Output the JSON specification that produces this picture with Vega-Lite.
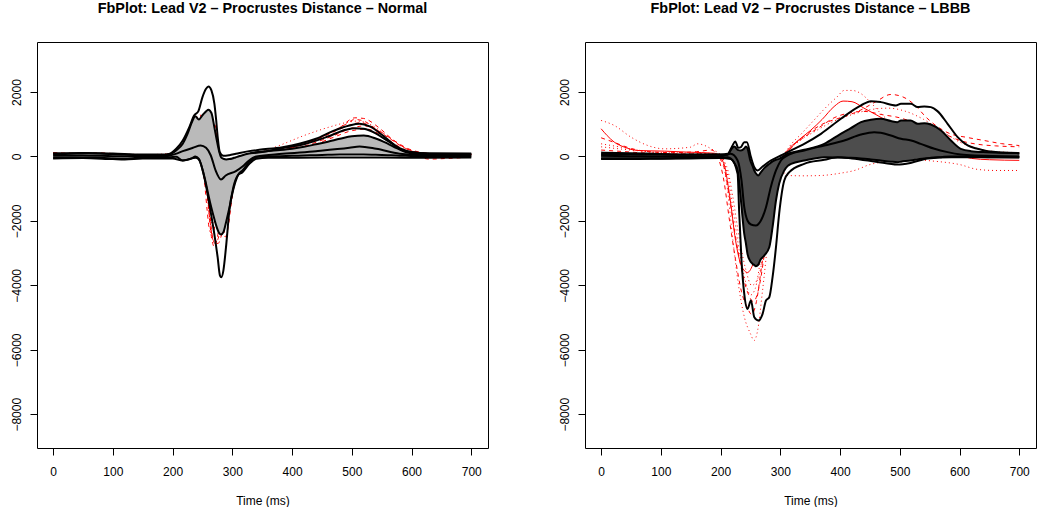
{
"$schema": "https://vega.github.io/schema/vega-lite/v6.json",
"padding": {"left": 10, "top": 0, "right": 0, "bottom": 0},
"autosize": {"type": "pad"},
"spacing": 69,
"config": {
 "view": {"stroke": "#000", "strokeWidth": 1},
 "font": "Liberation Sans",
 "axis": {"grid": false, "domain": false, "tickColor": "#000", "tickSize": 7, "tickWidth": 1, "labelFont": "Liberation Sans", "labelFontSize": 12, "labelColor": "#000", "titleFont": "Liberation Sans", "titleFontSize": 12, "titleFontWeight": "normal", "titleColor": "#000"},
 "axisX": {"labelPadding": 11, "titlePadding": 18, "labelAngle": 0},
 "axisY": {"labelAngle": -90, "labelAlign": "center", "labelBaseline": "alphabetic", "labelPadding": 9.5},
 "title": {"font": "Liberation Sans", "fontSize": 14.4, "fontWeight": "bold", "color": "#000", "anchor": "middle", "baseline": "alphabetic", "offset": 26}
},
"datasets": {
"band": [
{"p":"N","t":0,"lo":-40,"hi":70},{"p":"N","t":20,"lo":-40,"hi":80},{"p":"N","t":40,"lo":-30,"hi":90},{"p":"N","t":60,"lo":-30,"hi":100},{"p":"N","t":80,"lo":-40,"hi":90},{"p":"N","t":100,"lo":-60,"hi":70},{"p":"N","t":120,"lo":-80,"hi":50},{"p":"N","t":140,"lo":-40,"hi":40},{"p":"N","t":160,"lo":-20,"hi":30},{"p":"N","t":180,"lo":-20,"hi":30},{"p":"N","t":195,"lo":-20,"hi":60},{"p":"N","t":206,"lo":-10,"hi":187},{"p":"N","t":217,"lo":-124,"hi":394},{"p":"N","t":225,"lo":-100,"hi":700},{"p":"N","t":232,"lo":-60,"hi":1050},{"p":"N","t":238,"lo":0,"hi":1250},{"p":"N","t":244,"lo":-72,"hi":1150},{"p":"N","t":250,"lo":-400,"hi":1280},{"p":"N","t":256,"lo":-850,"hi":1400},{"p":"N","t":260,"lo":-1200,"hi":1450},{"p":"N","t":265,"lo":-1600,"hi":1350},{"p":"N","t":270,"lo":-1950,"hi":900},{"p":"N","t":274,"lo":-2200,"hi":500},{"p":"N","t":278,"lo":-2380,"hi":150},{"p":"N","t":281,"lo":-2420,"hi":-20},{"p":"N","t":285,"lo":-2350,"hi":-70},{"p":"N","t":290,"lo":-2000,"hi":-90},{"p":"N","t":295,"lo":-1600,"hi":-80},{"p":"N","t":300,"lo":-1150,"hi":-60},{"p":"N","t":305,"lo":-800,"hi":-30},{"p":"N","t":310,"lo":-560,"hi":0},{"p":"N","t":317,"lo":-434,"hi":40},{"p":"N","t":328,"lo":-176,"hi":90},{"p":"N","t":340,"lo":-20,"hi":130},{"p":"N","t":360,"lo":0,"hi":170},{"p":"N","t":380,"lo":10,"hi":200},{"p":"N","t":400,"lo":20,"hi":240},{"p":"N","t":420,"lo":30,"hi":300},{"p":"N","t":440,"lo":40,"hi":380},{"p":"N","t":460,"lo":50,"hi":460},{"p":"N","t":480,"lo":60,"hi":550},{"p":"N","t":500,"lo":60,"hi":630},{"p":"N","t":520,"lo":60,"hi":650},{"p":"N","t":540,"lo":50,"hi":560},{"p":"N","t":560,"lo":40,"hi":400},{"p":"N","t":575,"lo":30,"hi":260},{"p":"N","t":590,"lo":20,"hi":140},{"p":"N","t":610,"lo":10,"hi":80},{"p":"N","t":640,"lo":0,"hi":60},{"p":"N","t":700,"lo":0,"hi":60},
{"p":"L","t":0,"lo":-60,"hi":80},{"p":"L","t":30,"lo":-60,"hi":80},{"p":"L","t":60,"lo":-60,"hi":70},{"p":"L","t":100,"lo":-60,"hi":60},{"p":"L","t":150,"lo":-40,"hi":50},{"p":"L","t":195,"lo":-40,"hi":60},{"p":"L","t":212,"lo":-20,"hi":52},{"p":"L","t":217,"lo":-60,"hi":200},{"p":"L","t":223,"lo":-200,"hi":311},{"p":"L","t":228.5,"lo":-434,"hi":207},{"p":"L","t":234,"lo":-1366,"hi":187},{"p":"L","t":239.6,"lo":-2401,"hi":250},{"p":"L","t":242.4,"lo":-2700,"hi":311},{"p":"L","t":245,"lo":-3022,"hi":250},{"p":"L","t":249.7,"lo":-3250,"hi":-124},{"p":"L","t":253.6,"lo":-3333,"hi":-300},{"p":"L","t":256.4,"lo":-3370,"hi":-434},{"p":"L","t":259,"lo":-3405,"hi":-520},{"p":"L","t":263,"lo":-3360,"hi":-590},{"p":"L","t":267,"lo":-3200,"hi":-500},{"p":"L","t":273,"lo":-3074,"hi":-360},{"p":"L","t":281.5,"lo":-2815,"hi":-228},{"p":"L","t":287,"lo":-2194,"hi":-150},{"p":"L","t":292.7,"lo":-1366,"hi":-100},{"p":"L","t":298,"lo":-848,"hi":-72},{"p":"L","t":306.6,"lo":-434,"hi":20},{"p":"L","t":312,"lo":-300,"hi":83},{"p":"L","t":318,"lo":-228,"hi":120},{"p":"L","t":340,"lo":-124,"hi":207},{"p":"L","t":373.6,"lo":-20,"hi":393},{"p":"L","t":401,"lo":-30,"hi":704},{"p":"L","t":418,"lo":-41,"hi":880},{"p":"L","t":435,"lo":-60,"hi":1066},{"p":"L","t":451.6,"lo":-90,"hi":1139},{"p":"L","t":468,"lo":-124,"hi":1170},{"p":"L","t":485,"lo":-160,"hi":1100},{"p":"L","t":496,"lo":-176,"hi":1066},{"p":"L","t":502,"lo":-160,"hi":1118},{"p":"L","t":518,"lo":-124,"hi":1118},{"p":"L","t":530,"lo":-90,"hi":1014},{"p":"L","t":541,"lo":-60,"hi":1035},{"p":"L","t":552,"lo":-41,"hi":993},{"p":"L","t":569,"lo":-20,"hi":807},{"p":"L","t":585.6,"lo":0,"hi":497},{"p":"L","t":602,"lo":0,"hi":238},{"p":"L","t":619,"lo":-10,"hi":166},{"p":"L","t":647,"lo":-20,"hi":135},{"p":"L","t":700,"lo":-20,"hi":104}
],
"lines": [
{"s":"Nb1","t":0,"v":100},{"s":"Nb1","t":50,"v":110},{"s":"Nb1","t":100,"v":90},{"s":"Nb1","t":150,"v":60},{"s":"Nb1","t":180,"v":60},{"s":"Nb1","t":194,"v":80},{"s":"Nb1","t":206,"v":238},{"s":"Nb1","t":217,"v":497},{"s":"Nb1","t":228,"v":911},{"s":"Nb1","t":236,"v":1273},{"s":"Nb1","t":243,"v":1400},{"s":"Nb1","t":250,"v":1843},{"s":"Nb1","t":256,"v":2101},{"s":"Nb1","t":260,"v":2174},{"s":"Nb1","t":265,"v":2050},{"s":"Nb1","t":270,"v":1636},{"s":"Nb1","t":273,"v":1118},{"s":"Nb1","t":275.5,"v":600},{"s":"Nb1","t":279,"v":135},{"s":"Nb1","t":285,"v":20},{"s":"Nb1","t":295,"v":40},{"s":"Nb1","t":306,"v":83},{"s":"Nb1","t":328,"v":166},{"s":"Nb1","t":345,"v":207},{"s":"Nb1","t":384,"v":290},{"s":"Nb1","t":412,"v":393},{"s":"Nb1","t":440,"v":549},{"s":"Nb1","t":468,"v":787},{"s":"Nb1","t":496,"v":963},{"s":"Nb1","t":513,"v":1015},{"s":"Nb1","t":530,"v":932},{"s":"Nb1","t":552,"v":652},{"s":"Nb1","t":569,"v":393},{"s":"Nb1","t":580,"v":238},{"s":"Nb1","t":600,"v":130},{"s":"Nb1","t":630,"v":90},{"s":"Nb1","t":700,"v":90},
{"s":"Nb2","t":330,"v":100},{"s":"Nb2","t":360,"v":170},{"s":"Nb2","t":380,"v":250},{"s":"Nb2","t":420,"v":380},{"s":"Nb2","t":460,"v":620},{"s":"Nb2","t":490,"v":830},{"s":"Nb2","t":505,"v":880},{"s":"Nb2","t":520,"v":860},{"s":"Nb2","t":540,"v":720},{"s":"Nb2","t":560,"v":480},{"s":"Nb2","t":580,"v":260},{"s":"Nb2","t":600,"v":140},{"s":"Nb2","t":630,"v":90},{"s":"Nb2","t":700,"v":80},
{"s":"Nb3","t":0,"v":20},{"s":"Nb3","t":50,"v":30},{"s":"Nb3","t":100,"v":10},{"s":"Nb3","t":150,"v":0},{"s":"Nb3","t":190,"v":10},{"s":"Nb3","t":205,"v":80},{"s":"Nb3","t":217,"v":166},{"s":"Nb3","t":234,"v":269},{"s":"Nb3","t":247,"v":342},{"s":"Nb3","t":256,"v":269},{"s":"Nb3","t":264,"v":31},{"s":"Nb3","t":272,"v":-434},{"s":"Nb3","t":281,"v":-714},{"s":"Nb3","t":289,"v":-590},{"s":"Nb3","t":306,"v":-455},{"s":"Nb3","t":317,"v":-310},{"s":"Nb3","t":328,"v":-124},{"s":"Nb3","t":340,"v":0},{"s":"Nb3","t":384,"v":83},{"s":"Nb3","t":440,"v":166},{"s":"Nb3","t":496,"v":269},{"s":"Nb3","t":513,"v":311},{"s":"Nb3","t":541,"v":238},{"s":"Nb3","t":580,"v":83},{"s":"Nb3","t":620,"v":40},{"s":"Nb3","t":700,"v":30},
{"s":"Nb4","t":0,"v":-60},{"s":"Nb4","t":50,"v":-50},{"s":"Nb4","t":100,"v":-80},{"s":"Nb4","t":120,"v":-90},{"s":"Nb4","t":150,"v":-60},{"s":"Nb4","t":200,"v":-60},{"s":"Nb4","t":217,"v":-124},{"s":"Nb4","t":239,"v":-41},{"s":"Nb4","t":245,"v":-124},{"s":"Nb4","t":253,"v":-641},{"s":"Nb4","t":261.4,"v":-1470},{"s":"Nb4","t":269.8,"v":-2401},{"s":"Nb4","t":275.4,"v":-3125},{"s":"Nb4","t":279.3,"v":-3695},{"s":"Nb4","t":281.6,"v":-3747},{"s":"Nb4","t":285,"v":-3540},{"s":"Nb4","t":289.4,"v":-2815},{"s":"Nb4","t":295,"v":-1677},{"s":"Nb4","t":301.7,"v":-952},{"s":"Nb4","t":309,"v":-590},{"s":"Nb4","t":317,"v":-486},{"s":"Nb4","t":328.5,"v":-228},{"s":"Nb4","t":340,"v":-72},{"s":"Nb4","t":360,"v":-40},{"s":"Nb4","t":400,"v":-40},{"s":"Nb4","t":500,"v":-30},{"s":"Nb4","t":600,"v":-40},{"s":"Nb4","t":700,"v":-30},
{"s":"Nd1","t":0,"v":120},{"s":"Nd1","t":40,"v":100},{"s":"Nd1","t":80,"v":110},{"s":"Nd1","t":120,"v":60},{"s":"Nd1","t":160,"v":40},{"s":"Nd1","t":190,"v":60},{"s":"Nd1","t":210,"v":250},{"s":"Nd1","t":225,"v":700},{"s":"Nd1","t":238,"v":1150},{"s":"Nd1","t":246,"v":1300},{"s":"Nd1","t":250,"v":900},{"s":"Nd1","t":254,"v":100},{"s":"Nd1","t":258,"v":-900},{"s":"Nd1","t":262,"v":-2000},{"s":"Nd1","t":266,"v":-2600},{"s":"Nd1","t":270,"v":-2800},{"s":"Nd1","t":275,"v":-2500},{"s":"Nd1","t":281,"v":-1700},{"s":"Nd1","t":289,"v":-800},{"s":"Nd1","t":300,"v":-300},{"s":"Nd1","t":315,"v":-80},{"s":"Nd1","t":340,"v":40},{"s":"Nd1","t":380,"v":180},{"s":"Nd1","t":420,"v":380},{"s":"Nd1","t":460,"v":700},{"s":"Nd1","t":490,"v":1000},{"s":"Nd1","t":505,"v":1150},{"s":"Nd1","t":520,"v":1100},{"s":"Nd1","t":540,"v":850},{"s":"Nd1","t":560,"v":520},{"s":"Nd1","t":585,"v":220},{"s":"Nd1","t":610,"v":90},{"s":"Nd1","t":650,"v":60},{"s":"Nd1","t":700,"v":60},
{"s":"Nd2","t":0,"v":60},{"s":"Nd2","t":50,"v":40},{"s":"Nd2","t":100,"v":-20},{"s":"Nd2","t":150,"v":20},{"s":"Nd2","t":195,"v":50},{"s":"Nd2","t":215,"v":300},{"s":"Nd2","t":230,"v":850},{"s":"Nd2","t":240,"v":1100},{"s":"Nd2","t":245,"v":600},{"s":"Nd2","t":250,"v":-200},{"s":"Nd2","t":254,"v":-900},{"s":"Nd2","t":258,"v":-1700},{"s":"Nd2","t":262,"v":-2300},{"s":"Nd2","t":267,"v":-2400},{"s":"Nd2","t":273,"v":-1900},{"s":"Nd2","t":281,"v":-1100},{"s":"Nd2","t":292,"v":-400},{"s":"Nd2","t":310,"v":-120},{"s":"Nd2","t":340,"v":30},{"s":"Nd2","t":390,"v":250},{"s":"Nd2","t":440,"v":520},{"s":"Nd2","t":480,"v":850},{"s":"Nd2","t":500,"v":1000},{"s":"Nd2","t":515,"v":1050},{"s":"Nd2","t":535,"v":900},{"s":"Nd2","t":560,"v":600},{"s":"Nd2","t":590,"v":250},{"s":"Nd2","t":620,"v":80},{"s":"Nd2","t":700,"v":40},
{"s":"Nd3","t":0,"v":80},{"s":"Nd3","t":60,"v":60},{"s":"Nd3","t":120,"v":30},{"s":"Nd3","t":180,"v":50},{"s":"Nd3","t":205,"v":150},{"s":"Nd3","t":225,"v":400},{"s":"Nd3","t":240,"v":700},{"s":"Nd3","t":252,"v":900},{"s":"Nd3","t":262,"v":1050},{"s":"Nd3","t":268,"v":1100},{"s":"Nd3","t":272,"v":900},{"s":"Nd3","t":276,"v":100},{"s":"Nd3","t":280,"v":-800},{"s":"Nd3","t":284,"v":-1800},{"s":"Nd3","t":288,"v":-2500},{"s":"Nd3","t":293,"v":-2200},{"s":"Nd3","t":298,"v":-1500},{"s":"Nd3","t":305,"v":-700},{"s":"Nd3","t":315,"v":-200},{"s":"Nd3","t":330,"v":-20},{"s":"Nd3","t":370,"v":100},{"s":"Nd3","t":420,"v":320},{"s":"Nd3","t":470,"v":650},{"s":"Nd3","t":500,"v":880},{"s":"Nd3","t":520,"v":950},{"s":"Nd3","t":545,"v":800},{"s":"Nd3","t":570,"v":500},{"s":"Nd3","t":600,"v":200},{"s":"Nd3","t":640,"v":80},{"s":"Nd3","t":700,"v":60},
{"s":"No4","t":0,"v":100},{"s":"No4","t":80,"v":90},{"s":"No4","t":160,"v":60},{"s":"No4","t":200,"v":100},{"s":"No4","t":220,"v":400},{"s":"No4","t":235,"v":900},{"s":"No4","t":243,"v":1100},{"s":"No4","t":248,"v":500},{"s":"No4","t":252,"v":-300},{"s":"No4","t":257,"v":-1100},{"s":"No4","t":262,"v":-1800},{"s":"No4","t":267,"v":-2100},{"s":"No4","t":274,"v":-1800},{"s":"No4","t":283,"v":-1100},{"s":"No4","t":294,"v":-500},{"s":"No4","t":310,"v":-100},{"s":"No4","t":340,"v":80},{"s":"No4","t":380,"v":350},{"s":"No4","t":420,"v":650},{"s":"No4","t":460,"v":900},{"s":"No4","t":490,"v":1050},{"s":"No4","t":510,"v":1100},{"s":"No4","t":530,"v":1000},{"s":"No4","t":555,"v":700},{"s":"No4","t":585,"v":300},{"s":"No4","t":620,"v":100},{"s":"No4","t":700,"v":50},
{"s":"Nd5","t":0,"v":30},{"s":"Nd5","t":50,"v":-20},{"s":"Nd5","t":100,"v":-60},{"s":"Nd5","t":150,"v":-30},{"s":"Nd5","t":195,"v":20},{"s":"Nd5","t":220,"v":250},{"s":"Nd5","t":235,"v":700},{"s":"Nd5","t":245,"v":1000},{"s":"Nd5","t":251,"v":600},{"s":"Nd5","t":256,"v":-400},{"s":"Nd5","t":261,"v":-1500},{"s":"Nd5","t":266,"v":-2400},{"s":"Nd5","t":271,"v":-2700},{"s":"Nd5","t":277,"v":-2500},{"s":"Nd5","t":284,"v":-1700},{"s":"Nd5","t":292,"v":-900},{"s":"Nd5","t":302,"v":-350},{"s":"Nd5","t":320,"v":-100},{"s":"Nd5","t":360,"v":50},{"s":"Nd5","t":420,"v":250},{"s":"Nd5","t":470,"v":600},{"s":"Nd5","t":500,"v":800},{"s":"Nd5","t":525,"v":850},{"s":"Nd5","t":550,"v":650},{"s":"Nd5","t":575,"v":350},{"s":"Nd5","t":600,"v":100},{"s":"Nd5","t":630,"v":-80},{"s":"Nd5","t":660,"v":-60},{"s":"Nd5","t":700,"v":-20},
{"s":"Nd6","t":0,"v":90},{"s":"Nd6","t":60,"v":70},{"s":"Nd6","t":130,"v":40},{"s":"Nd6","t":190,"v":50},{"s":"Nd6","t":212,"v":300},{"s":"Nd6","t":228,"v":800},{"s":"Nd6","t":238,"v":1000},{"s":"Nd6","t":246,"v":700},{"s":"Nd6","t":252,"v":-100},{"s":"Nd6","t":257,"v":-1000},{"s":"Nd6","t":262,"v":-1900},{"s":"Nd6","t":268,"v":-2600},{"s":"Nd6","t":276,"v":-2700},{"s":"Nd6","t":284,"v":-2300},{"s":"Nd6","t":292,"v":-1800},{"s":"Nd6","t":299,"v":-1000},{"s":"Nd6","t":308,"v":-400},{"s":"Nd6","t":325,"v":-60},{"s":"Nd6","t":370,"v":150},{"s":"Nd6","t":430,"v":450},{"s":"Nd6","t":480,"v":900},{"s":"Nd6","t":505,"v":1200},{"s":"Nd6","t":520,"v":1180},{"s":"Nd6","t":545,"v":900},{"s":"Nd6","t":570,"v":500},{"s":"Nd6","t":600,"v":180},{"s":"Nd6","t":640,"v":70},{"s":"Nd6","t":700,"v":70},
{"s":"Lb1","t":0,"v":120},{"s":"Lb1","t":50,"v":100},{"s":"Lb1","t":100,"v":80},{"s":"Lb1","t":150,"v":60},{"s":"Lb1","t":200,"v":60},{"s":"Lb1","t":212,"v":83},{"s":"Lb1","t":220,"v":342},{"s":"Lb1","t":224.5,"v":466},{"s":"Lb1","t":229.6,"v":269},{"s":"Lb1","t":234,"v":290},{"s":"Lb1","t":239.6,"v":445},{"s":"Lb1","t":244,"v":445},{"s":"Lb1","t":250.8,"v":-20},{"s":"Lb1","t":256.4,"v":-331},{"s":"Lb1","t":262,"v":-434},{"s":"Lb1","t":270.3,"v":-310},{"s":"Lb1","t":284,"v":-124},{"s":"Lb1","t":301,"v":31},{"s":"Lb1","t":318,"v":187},{"s":"Lb1","t":340,"v":393},{"s":"Lb1","t":368,"v":704},{"s":"Lb1","t":401.4,"v":1170},{"s":"Lb1","t":435,"v":1584},{"s":"Lb1","t":451.6,"v":1718},{"s":"Lb1","t":468.4,"v":1687},{"s":"Lb1","t":493.5,"v":1584},{"s":"Lb1","t":501.9,"v":1636},{"s":"Lb1","t":518.6,"v":1636},{"s":"Lb1","t":529.8,"v":1532},{"s":"Lb1","t":541,"v":1553},{"s":"Lb1","t":552,"v":1532},{"s":"Lb1","t":563,"v":1408},{"s":"Lb1","t":580,"v":1015},{"s":"Lb1","t":596.8,"v":600},{"s":"Lb1","t":613.6,"v":342},{"s":"Lb1","t":630,"v":238},{"s":"Lb1","t":647,"v":166},{"s":"Lb1","t":700,"v":104},
{"s":"Lb3","t":0,"v":20},{"s":"Lb3","t":50,"v":10},{"s":"Lb3","t":100,"v":0},{"s":"Lb3","t":150,"v":0},{"s":"Lb3","t":200,"v":10},{"s":"Lb3","t":217,"v":83},{"s":"Lb3","t":228.5,"v":-124},{"s":"Lb3","t":235,"v":-745},{"s":"Lb3","t":239.6,"v":-1573},{"s":"Lb3","t":245,"v":-1987},{"s":"Lb3","t":250.8,"v":-2111},{"s":"Lb3","t":259,"v":-2142},{"s":"Lb3","t":267.5,"v":-1987},{"s":"Lb3","t":276,"v":-1573},{"s":"Lb3","t":284,"v":-952},{"s":"Lb3","t":292.7,"v":-434},{"s":"Lb3","t":301,"v":-124},{"s":"Lb3","t":312,"v":31},{"s":"Lb3","t":340,"v":187},{"s":"Lb3","t":373.6,"v":342},{"s":"Lb3","t":407,"v":497},{"s":"Lb3","t":435,"v":683},{"s":"Lb3","t":457,"v":756},{"s":"Lb3","t":468,"v":735},{"s":"Lb3","t":485,"v":652},{"s":"Lb3","t":502,"v":549},{"s":"Lb3","t":519,"v":497},{"s":"Lb3","t":535,"v":393},{"s":"Lb3","t":558,"v":238},{"s":"Lb3","t":580,"v":135},{"s":"Lb3","t":602,"v":62},{"s":"Lb3","t":625,"v":31},{"s":"Lb3","t":700,"v":0},
{"s":"Lb4","t":0,"v":-80},{"s":"Lb4","t":50,"v":-80},{"s":"Lb4","t":100,"v":-70},{"s":"Lb4","t":150,"v":-60},{"s":"Lb4","t":200,"v":-50},{"s":"Lb4","t":217,"v":-80},{"s":"Lb4","t":228.5,"v":-538},{"s":"Lb4","t":231,"v":-1677},{"s":"Lb4","t":235,"v":-3229},{"s":"Lb4","t":239.6,"v":-4264},{"s":"Lb4","t":245,"v":-4730},{"s":"Lb4","t":250.8,"v":-4471},{"s":"Lb4","t":256.4,"v":-4989},{"s":"Lb4","t":263.6,"v":-5092},{"s":"Lb4","t":270.3,"v":-4885},{"s":"Lb4","t":276,"v":-4471},{"s":"Lb4","t":281.5,"v":-4368},{"s":"Lb4","t":287,"v":-3746},{"s":"Lb4","t":292.7,"v":-2815},{"s":"Lb4","t":298,"v":-1780},{"s":"Lb4","t":306.6,"v":-745},{"s":"Lb4","t":315,"v":-486},{"s":"Lb4","t":340,"v":-228},{"s":"Lb4","t":373.6,"v":-103},{"s":"Lb4","t":396,"v":-20},{"s":"Lb4","t":420,"v":-60},{"s":"Lb4","t":460,"v":-160},{"s":"Lb4","t":496,"v":-250},{"s":"Lb4","t":518,"v":-200},{"s":"Lb4","t":547,"v":-60},{"s":"Lb4","t":586,"v":-20},{"s":"Lb4","t":700,"v":-30},
{"s":"Lr1","t":0,"v":860},{"s":"Lr1","t":10,"v":650},{"s":"Lr1","t":22,"v":445},{"s":"Lr1","t":39,"v":290},{"s":"Lr1","t":61,"v":186},{"s":"Lr1","t":106,"v":166},{"s":"Lr1","t":145,"v":135},{"s":"Lr1","t":190,"v":100},{"s":"Lr1","t":205,"v":-200},{"s":"Lr1","t":215,"v":-1200},{"s":"Lr1","t":225,"v":-2600},{"s":"Lr1","t":235,"v":-3400},{"s":"Lr1","t":245,"v":-3600},{"s":"Lr1","t":255,"v":-3300},{"s":"Lr1","t":265,"v":-2600},{"s":"Lr1","t":275,"v":-1800},{"s":"Lr1","t":285,"v":-900},{"s":"Lr1","t":295,"v":-300},{"s":"Lr1","t":310,"v":150},{"s":"Lr1","t":330,"v":500},{"s":"Lr1","t":350,"v":800},{"s":"Lr1","t":370,"v":1150},{"s":"Lr1","t":390,"v":1550},{"s":"Lr1","t":405,"v":1720},{"s":"Lr1","t":420,"v":1700},{"s":"Lr1","t":440,"v":1500},{"s":"Lr1","t":460,"v":1300},{"s":"Lr1","t":480,"v":1100},{"s":"Lr1","t":500,"v":950},{"s":"Lr1","t":530,"v":800},{"s":"Lr1","t":560,"v":500},{"s":"Lr1","t":590,"v":150},{"s":"Lr1","t":620,"v":-60},{"s":"Lr1","t":650,"v":-100},{"s":"Lr1","t":700,"v":-120},
{"s":"Lo2","t":0,"v":1118},{"s":"Lo2","t":22,"v":963},{"s":"Lo2","t":50,"v":600},{"s":"Lo2","t":78,"v":342},{"s":"Lo2","t":106,"v":238},{"s":"Lo2","t":150,"v":290},{"s":"Lo2","t":161,"v":393},{"s":"Lo2","t":189,"v":186},{"s":"Lo2","t":200,"v":50},{"s":"Lo2","t":210,"v":-800},{"s":"Lo2","t":220,"v":-2500},{"s":"Lo2","t":230,"v":-4000},{"s":"Lo2","t":240,"v":-5000},{"s":"Lo2","t":250,"v":-5500},{"s":"Lo2","t":256,"v":-5713},{"s":"Lo2","t":262,"v":-5400},{"s":"Lo2","t":270,"v":-4200},{"s":"Lo2","t":280,"v":-2500},{"s":"Lo2","t":290,"v":-1000},{"s":"Lo2","t":300,"v":-200},{"s":"Lo2","t":315,"v":300},{"s":"Lo2","t":335,"v":700},{"s":"Lo2","t":355,"v":1100},{"s":"Lo2","t":375,"v":1500},{"s":"Lo2","t":395,"v":1850},{"s":"Lo2","t":407,"v":2050},{"s":"Lo2","t":420,"v":2050},{"s":"Lo2","t":435,"v":1950},{"s":"Lo2","t":450,"v":1700},{"s":"Lo2","t":470,"v":1300},{"s":"Lo2","t":490,"v":1000},{"s":"Lo2","t":510,"v":900},{"s":"Lo2","t":540,"v":700},{"s":"Lo2","t":570,"v":400},{"s":"Lo2","t":600,"v":200},{"s":"Lo2","t":640,"v":100},{"s":"Lo2","t":700,"v":100},
{"s":"Ld3","t":0,"v":580},{"s":"Ld3","t":20,"v":450},{"s":"Ld3","t":50,"v":250},{"s":"Ld3","t":80,"v":150},{"s":"Ld3","t":120,"v":120},{"s":"Ld3","t":160,"v":150},{"s":"Ld3","t":185,"v":200},{"s":"Ld3","t":195,"v":0},{"s":"Ld3","t":205,"v":-700},{"s":"Ld3","t":215,"v":-2000},{"s":"Ld3","t":225,"v":-3200},{"s":"Ld3","t":235,"v":-4200},{"s":"Ld3","t":245,"v":-4700},{"s":"Ld3","t":252,"v":-4900},{"s":"Ld3","t":260,"v":-4500},{"s":"Ld3","t":268,"v":-3500},{"s":"Ld3","t":278,"v":-2200},{"s":"Ld3","t":290,"v":-900},{"s":"Ld3","t":305,"v":-100},{"s":"Ld3","t":320,"v":300},{"s":"Ld3","t":345,"v":700},{"s":"Ld3","t":370,"v":1000},{"s":"Ld3","t":400,"v":1200},{"s":"Ld3","t":430,"v":1400},{"s":"Ld3","t":460,"v":1700},{"s":"Ld3","t":485,"v":1925},{"s":"Ld3","t":505,"v":1850},{"s":"Ld3","t":525,"v":1600},{"s":"Ld3","t":545,"v":1200},{"s":"Ld3","t":565,"v":900},{"s":"Ld3","t":585,"v":700},{"s":"Ld3","t":610,"v":600},{"s":"Ld3","t":640,"v":500},{"s":"Ld3","t":670,"v":400},{"s":"Ld3","t":700,"v":340},
{"s":"Lo4","t":0,"v":393},{"s":"Lo4","t":30,"v":300},{"s":"Lo4","t":60,"v":200},{"s":"Lo4","t":100,"v":100},{"s":"Lo4","t":150,"v":60},{"s":"Lo4","t":180,"v":100},{"s":"Lo4","t":200,"v":0},{"s":"Lo4","t":212,"v":-600},{"s":"Lo4","t":222,"v":-1800},{"s":"Lo4","t":232,"v":-3000},{"s":"Lo4","t":242,"v":-3900},{"s":"Lo4","t":250,"v":-4300},{"s":"Lo4","t":258,"v":-4100},{"s":"Lo4","t":266,"v":-3300},{"s":"Lo4","t":276,"v":-2000},{"s":"Lo4","t":288,"v":-800},{"s":"Lo4","t":300,"v":-400},{"s":"Lo4","t":312,"v":-590},{"s":"Lo4","t":340,"v":-600},{"s":"Lo4","t":368,"v":-590},{"s":"Lo4","t":400,"v":-520},{"s":"Lo4","t":424,"v":-434},{"s":"Lo4","t":450,"v":-250},{"s":"Lo4","t":480,"v":-150},{"s":"Lo4","t":520,"v":-100},{"s":"Lo4","t":560,"v":-150},{"s":"Lo4","t":600,"v":-250},{"s":"Lo4","t":630,"v":-400},{"s":"Lo4","t":660,"v":-434},{"s":"Lo4","t":700,"v":-434},
{"s":"Ld5","t":0,"v":200},{"s":"Ld5","t":40,"v":150},{"s":"Ld5","t":80,"v":100},{"s":"Ld5","t":120,"v":80},{"s":"Ld5","t":160,"v":80},{"s":"Ld5","t":190,"v":60},{"s":"Ld5","t":205,"v":-300},{"s":"Ld5","t":215,"v":-1300},{"s":"Ld5","t":225,"v":-2500},{"s":"Ld5","t":235,"v":-3500},{"s":"Ld5","t":245,"v":-4200},{"s":"Ld5","t":255,"v":-4500},{"s":"Ld5","t":265,"v":-4000},{"s":"Ld5","t":275,"v":-2800},{"s":"Ld5","t":285,"v":-1500},{"s":"Ld5","t":298,"v":-400},{"s":"Ld5","t":315,"v":200},{"s":"Ld5","t":340,"v":600},{"s":"Ld5","t":365,"v":900},{"s":"Ld5","t":390,"v":1200},{"s":"Ld5","t":415,"v":1350},{"s":"Ld5","t":440,"v":1400},{"s":"Ld5","t":470,"v":1300},{"s":"Ld5","t":500,"v":1200},{"s":"Ld5","t":525,"v":1050},{"s":"Ld5","t":550,"v":900},{"s":"Ld5","t":575,"v":700},{"s":"Ld5","t":600,"v":500},{"s":"Ld5","t":630,"v":380},{"s":"Ld5","t":660,"v":330},{"s":"Ld5","t":700,"v":300},
{"s":"Lo6","t":0,"v":300},{"s":"Lo6","t":50,"v":200},{"s":"Lo6","t":100,"v":120},{"s":"Lo6","t":150,"v":100},{"s":"Lo6","t":195,"v":50},{"s":"Lo6","t":210,"v":-300},{"s":"Lo6","t":220,"v":-1200},{"s":"Lo6","t":230,"v":-2400},{"s":"Lo6","t":242,"v":-3500},{"s":"Lo6","t":252,"v":-4000},{"s":"Lo6","t":262,"v":-3800},{"s":"Lo6","t":272,"v":-3000},{"s":"Lo6","t":282,"v":-1800},{"s":"Lo6","t":294,"v":-600},{"s":"Lo6","t":310,"v":100},{"s":"Lo6","t":330,"v":450},{"s":"Lo6","t":360,"v":800},{"s":"Lo6","t":390,"v":1100},{"s":"Lo6","t":420,"v":1300},{"s":"Lo6","t":450,"v":1450},{"s":"Lo6","t":480,"v":1500},{"s":"Lo6","t":510,"v":1400},{"s":"Lo6","t":540,"v":1150},{"s":"Lo6","t":570,"v":800},{"s":"Lo6","t":600,"v":450},{"s":"Lo6","t":630,"v":250},{"s":"Lo6","t":660,"v":150},{"s":"Lo6","t":700,"v":120}
]
},
"hconcat": [
{
 "title": {"text": "FbPlot: Lead V2 – Procrustes Distance – Normal"},
 "width": 451, "height": 406,
 "encoding": {"x": {"field": "t", "type": "quantitative", "title": "Time (ms)", "scale": {"domain": [-27, 728], "nice": false, "zero": false}, "axis": {"values": [0,100,200,300,400,500,600,700]}}},
 "layer": [
  {"data": {"name": "lines"}, "transform": [{"filter": "substring(datum.s,0,2)=='Nd'"}], "mark": {"type": "line", "color": "#ff0000", "strokeWidth": 1, "strokeDash": [4,4], "interpolate": "monotone", "clip": true}, "encoding": {"y": {"field": "v", "type": "quantitative", "title": null, "scale": {"domain": [-9047, 3553], "nice": false, "zero": false}, "axis": {"values": [-8000,-6000,-4000,-2000,0,2000], "format": "d"}}, "detail": {"field": "s"}}},
  {"data": {"name": "lines"}, "transform": [{"filter": "substring(datum.s,0,2)=='No'"}], "mark": {"type": "line", "color": "#ff0000", "strokeWidth": 1, "strokeDash": [1,3], "interpolate": "monotone", "clip": true}, "encoding": {"y": {"field": "v", "type": "quantitative", "title": null}, "detail": {"field": "s"}}},
  {"data": {"name": "band"}, "transform": [{"filter": "datum.p=='N'"}], "mark": {"type": "area", "color": "#bababa", "opacity": 1, "interpolate": "monotone", "clip": true}, "encoding": {"y": {"field": "hi", "type": "quantitative", "title": null}, "y2": {"field": "lo"}}},
  {"data": {"name": "band"}, "transform": [{"filter": "datum.p=='N'"}], "mark": {"type": "line", "color": "#000", "strokeWidth": 2, "interpolate": "monotone", "clip": true}, "encoding": {"y": {"field": "hi", "type": "quantitative", "title": null}}},
  {"data": {"name": "band"}, "transform": [{"filter": "datum.p=='N'"}], "mark": {"type": "line", "color": "#000", "strokeWidth": 2, "interpolate": "monotone", "clip": true}, "encoding": {"y": {"field": "lo", "type": "quantitative", "title": null}}},
  {"data": {"name": "lines"}, "transform": [{"filter": "substring(datum.s,0,2)=='Nb'"}], "mark": {"type": "line", "color": "#000", "strokeWidth": 2, "interpolate": "monotone", "clip": true}, "encoding": {"y": {"field": "v", "type": "quantitative", "title": null}, "detail": {"field": "s"}}}
 ]
},
{
 "title": {"text": "FbPlot: Lead V2 – Procrustes Distance – LBBB"},
 "width": 451, "height": 406,
 "encoding": {"x": {"field": "t", "type": "quantitative", "title": "Time (ms)", "scale": {"domain": [-27, 728], "nice": false, "zero": false}, "axis": {"values": [0,100,200,300,400,500,600,700]}}},
 "layer": [
  {"data": {"name": "lines"}, "transform": [{"filter": "substring(datum.s,0,2)=='Ld'"}], "mark": {"type": "line", "color": "#ff0000", "strokeWidth": 1, "strokeDash": [4,4], "interpolate": "monotone", "clip": true}, "encoding": {"y": {"field": "v", "type": "quantitative", "title": null, "scale": {"domain": [-9047, 3553], "nice": false, "zero": false}, "axis": {"values": [-8000,-6000,-4000,-2000,0,2000], "format": "d"}}, "detail": {"field": "s"}}},
  {"data": {"name": "lines"}, "transform": [{"filter": "substring(datum.s,0,2)=='Lo'"}], "mark": {"type": "line", "color": "#ff0000", "strokeWidth": 1, "strokeDash": [1,3], "interpolate": "monotone", "clip": true}, "encoding": {"y": {"field": "v", "type": "quantitative", "title": null}, "detail": {"field": "s"}}},
  {"data": {"name": "lines"}, "transform": [{"filter": "substring(datum.s,0,2)=='Lr'"}], "mark": {"type": "line", "color": "#ff0000", "strokeWidth": 1, "interpolate": "monotone", "clip": true}, "encoding": {"y": {"field": "v", "type": "quantitative", "title": null}, "detail": {"field": "s"}}},
  {"data": {"name": "band"}, "transform": [{"filter": "datum.p=='L'"}], "mark": {"type": "area", "color": "#4d4d4d", "opacity": 1, "interpolate": "monotone", "clip": true}, "encoding": {"y": {"field": "hi", "type": "quantitative", "title": null}, "y2": {"field": "lo"}}},
  {"data": {"name": "band"}, "transform": [{"filter": "datum.p=='L'"}], "mark": {"type": "line", "color": "#000", "strokeWidth": 2, "interpolate": "monotone", "clip": true}, "encoding": {"y": {"field": "hi", "type": "quantitative", "title": null}}},
  {"data": {"name": "band"}, "transform": [{"filter": "datum.p=='L'"}], "mark": {"type": "line", "color": "#000", "strokeWidth": 2, "interpolate": "monotone", "clip": true}, "encoding": {"y": {"field": "lo", "type": "quantitative", "title": null}}},
  {"data": {"name": "lines"}, "transform": [{"filter": "substring(datum.s,0,2)=='Lb'"}], "mark": {"type": "line", "color": "#000", "strokeWidth": 2, "interpolate": "monotone", "clip": true}, "encoding": {"y": {"field": "v", "type": "quantitative", "title": null}, "detail": {"field": "s"}}}
 ]
}
]
}
